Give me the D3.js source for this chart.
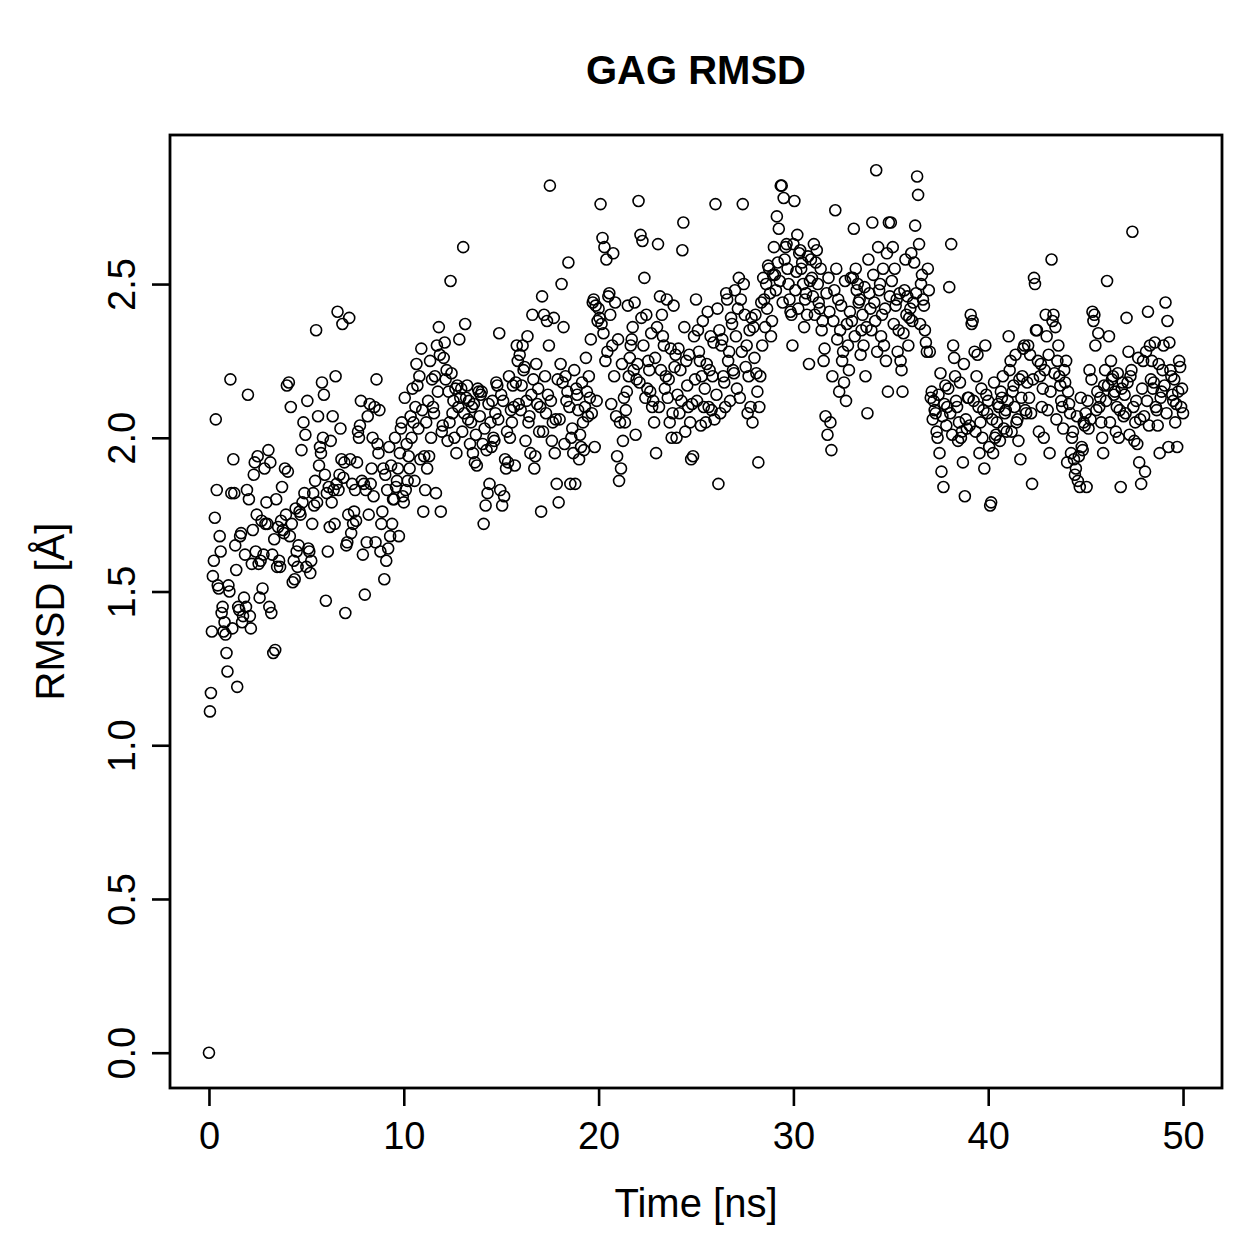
<!DOCTYPE html>
<html>
<head>
<meta charset="utf-8">
<script src="https://cdn.jsdelivr.net/npm/d3@7"></script>
<style>
  body { margin: 0; background: #fff; }
  text { font-family: "Liberation Sans", Arial, Helvetica, sans-serif; fill: #000; }
</style>
</head>
<body>
<svg id="chart" width="1259" height="1259"></svg>
<script>
// RMSD values (Å), one frame every 0.05 ns
const rmsd_00_10 = [
  0.00,1.11,1.17,1.37,1.55,1.60,1.74,2.06,1.83,1.52,1.51,1.68,1.63,1.43,1.45,1.37,1.40,1.36,1.30,1.24,
  1.52,1.50,2.19,1.82,1.38,1.93,1.82,1.65,1.57,1.19,1.45,1.44,1.68,1.69,1.40,1.42,1.48,1.62,1.45,1.83,
  2.14,1.80,1.42,1.38,1.59,1.70,1.88,1.92,1.63,1.75,1.94,1.59,1.48,1.60,1.73,1.51,1.62,1.90,1.72,1.79,
  1.72,1.96,1.45,1.92,1.43,1.62,1.30,1.67,1.31,1.80,1.58,1.71,1.60,1.58,1.73,1.84,1.70,1.69,1.90,1.75,
  2.17,1.89,2.18,1.68,2.10,1.72,1.53,1.60,1.54,1.77,1.63,1.58,1.65,1.76,1.75,1.96,1.79,2.05,1.82,2.01,
  1.58,2.12,1.64,1.63,1.56,1.60,1.72,1.82,1.78,1.86,2.35,1.79,2.07,1.91,1.97,1.95,2.18,2.00,2.14,1.88,
  1.47,1.82,1.63,1.84,1.71,1.99,1.79,2.07,1.83,1.72,2.20,1.85,2.41,1.83,1.88,2.03,1.93,2.37,1.87,1.92,
  1.43,1.65,1.66,1.75,2.39,1.93,1.69,1.85,1.72,1.76,1.83,1.73,1.92,2.02,2.00,2.04,2.12,1.86,1.62,1.85,
  1.49,1.83,1.66,2.07,1.75,2.11,1.85,1.90,2.00,1.81,2.10,1.66,2.19,1.98,1.95,2.09,1.63,1.72,1.76,1.90,
  1.54,1.88,1.60,1.83,1.64,1.97,1.68,1.91,1.72,1.80,1.80,2.00,1.84,1.86,1.90,1.68,1.95,2.03,2.05,1.81
];
const rmsd_10_20 = [
  1.79,2.13,1.83,1.98,1.86,1.94,1.90,2.07,2.00,2.16,2.05,1.86,2.10,2.24,2.17,2.03,2.20,1.93,2.29,2.09,
  1.76,1.94,1.83,2.05,1.90,2.12,1.94,2.25,2.00,2.19,2.10,2.08,2.20,1.82,2.30,2.15,2.36,2.27,1.76,2.02,
  2.04,2.26,2.31,2.19,2.22,1.99,2.15,2.05,2.51,2.21,2.08,2.12,2.00,2.16,1.95,2.17,2.10,2.32,2.13,2.16,
  2.02,2.62,2.08,2.37,2.13,2.17,2.06,2.12,1.98,2.05,2.10,1.95,2.11,1.92,2.01,1.91,2.16,2.15,2.07,2.14,
  2.15,1.98,1.72,2.03,1.78,1.96,1.82,2.11,1.85,2.05,1.97,2.12,2.00,1.99,2.08,2.18,2.17,2.06,2.34,1.83,
  2.14,1.78,2.12,1.81,1.93,1.90,2.02,1.92,2.20,2.00,2.09,2.05,2.17,2.10,1.91,2.18,2.30,2.25,2.11,2.27,
  2.09,2.17,2.30,2.22,2.23,1.99,2.12,2.33,2.05,2.07,1.95,2.14,2.40,2.19,1.90,1.94,2.24,2.11,2.16,2.02,
  2.10,1.76,2.46,2.02,2.40,2.20,2.08,2.38,2.14,2.30,2.82,2.12,1.99,2.05,2.39,1.95,2.06,1.85,2.19,1.79,
  2.06,2.24,2.50,2.18,2.36,1.98,2.20,2.12,2.15,2.57,2.10,1.85,2.00,2.03,1.95,2.22,1.85,2.16,2.14,2.09,
  1.93,2.01,1.97,2.18,2.05,1.96,2.10,2.26,2.15,2.07,2.20,2.13,2.32,2.08,2.44,2.45,1.97,2.43,2.12,2.38
];
const rmsd_20_30 = [
  2.42,2.39,2.76,2.37,2.65,2.34,2.62,2.25,2.58,2.28,2.46,2.47,2.40,2.11,2.30,2.60,2.20,2.44,2.07,1.94,
  2.32,1.86,2.05,1.90,2.24,1.99,2.13,2.05,2.09,2.15,2.43,2.20,2.26,2.30,2.32,2.36,2.22,2.44,2.01,2.19,
  2.24,2.77,2.18,2.66,2.39,2.64,2.30,2.52,2.13,2.40,2.16,2.25,2.22,2.15,2.34,2.10,2.12,2.05,2.26,1.95,
  2.36,2.63,2.10,2.46,2.22,2.40,2.33,2.30,2.16,2.20,2.45,2.13,2.19,2.05,2.29,2.00,2.08,2.43,2.23,2.27,
  2.00,2.14,2.29,2.08,2.22,2.12,2.61,2.70,2.36,2.02,2.25,2.17,2.10,2.27,2.05,1.93,2.11,1.94,2.33,2.19,
  2.45,2.12,2.35,2.28,2.25,2.04,2.20,2.38,2.10,2.16,2.05,2.24,2.41,2.10,2.22,2.33,2.09,2.20,2.31,2.06,
  2.76,2.14,2.42,1.85,2.35,2.08,2.30,2.32,2.20,2.18,2.10,2.47,2.45,2.25,2.28,2.12,2.39,2.37,2.22,2.21,
  2.48,2.33,2.16,2.42,2.52,2.13,2.45,2.28,2.76,2.50,2.40,2.23,2.30,2.08,2.20,2.35,2.10,2.39,2.05,2.36,
  2.26,2.40,2.21,2.15,1.92,2.10,2.20,2.44,2.30,2.52,2.45,2.36,2.50,2.42,2.56,2.55,2.47,2.33,2.38,2.53,
  2.62,2.53,2.48,2.72,2.57,2.68,2.51,2.82,2.82,2.44,2.78,2.58,2.62,2.63,2.55,2.50,2.45,2.41,2.40,2.30
];
const rmsd_30_40 = [
  2.63,2.77,2.48,2.54,2.66,2.42,2.60,2.61,2.55,2.57,2.50,2.36,2.45,2.47,2.40,2.59,2.24,2.51,2.58,2.52,
  2.46,2.63,2.40,2.57,2.61,2.50,2.44,2.42,2.55,2.35,2.38,2.25,2.29,2.07,2.47,2.01,2.52,2.41,2.05,1.96,
  2.20,2.38,2.48,2.74,2.55,2.32,2.45,2.15,2.35,2.43,2.25,2.28,2.18,2.51,2.12,2.37,2.30,2.22,2.41,2.52,
  2.38,2.52,2.68,2.33,2.55,2.48,2.50,2.44,2.45,2.27,2.35,2.40,2.30,2.49,2.20,2.36,2.08,2.58,2.47,2.42,
  2.35,2.70,2.53,2.44,2.38,2.87,2.28,2.62,2.48,2.50,2.33,2.40,2.55,2.30,2.42,2.25,2.60,2.15,2.70,2.46,
  2.70,2.51,2.62,2.37,2.55,2.43,2.45,2.28,2.35,2.47,2.25,2.22,2.15,2.34,2.48,2.58,2.40,2.46,2.30,2.39,
  2.42,2.60,2.38,2.44,2.57,2.69,2.47,2.85,2.79,2.63,2.37,2.50,2.53,2.45,2.43,2.35,2.31,2.28,2.55,2.48,
  2.28,2.13,2.15,2.06,2.12,2.09,2.08,2.02,2.00,2.14,1.95,2.21,1.89,2.07,1.84,2.11,2.17,2.04,2.10,2.16,
  2.49,2.08,2.63,2.01,2.30,2.26,2.20,2.12,2.10,1.99,2.05,2.18,2.00,2.02,1.92,2.24,1.81,2.06,2.03,2.13,
  2.13,2.04,2.40,2.37,2.38,2.12,2.28,2.02,2.20,2.27,2.10,1.95,2.05,2.16,2.00,2.09,1.90,2.30,2.14,2.08
];
const rmsd_40_50 = [
  2.12,1.97,1.78,1.79,2.06,1.95,2.18,2.00,2.01,2.05,2.11,2.10,1.99,2.15,2.13,2.20,2.03,2.08,2.09,2.02,
  2.12,2.33,2.22,2.25,2.02,2.15,2.17,2.10,2.27,2.05,2.06,1.99,2.19,1.93,2.13,2.20,2.29,2.30,2.09,2.08,
  2.18,2.30,2.13,2.27,2.08,1.85,2.19,2.52,2.50,2.35,2.35,2.25,2.02,2.20,2.24,2.10,2.16,2.00,2.22,2.40,
  2.33,2.09,2.27,1.95,2.15,2.58,2.38,2.40,2.21,2.36,2.06,2.25,2.30,2.20,2.17,2.12,2.10,2.03,2.22,2.18,
  2.25,1.92,2.15,2.11,2.08,1.95,2.00,2.02,1.93,1.88,1.90,2.07,1.86,1.94,1.84,2.13,1.97,1.96,2.05,2.04,
  2.08,1.84,2.12,2.03,2.22,2.06,2.19,2.41,2.38,2.40,2.30,2.09,2.15,2.34,2.10,2.13,2.05,2.00,1.95,2.17,
  2.22,2.12,2.51,2.17,2.33,2.05,2.25,2.19,2.20,2.14,2.15,2.02,2.10,2.21,2.00,2.09,1.84,2.16,2.18,2.07,
  2.14,2.08,2.39,2.18,2.28,2.01,2.20,2.22,2.67,2.10,1.99,2.05,2.12,1.98,2.26,1.92,2.06,1.85,2.16,2.25,
  2.07,1.89,2.28,2.12,2.41,2.04,2.30,2.19,2.25,2.16,2.18,2.31,2.10,2.09,2.04,2.24,1.95,2.13,2.15,2.22,
  2.30,2.17,2.44,2.08,2.38,1.97,2.31,2.22,2.20,2.14,2.12,2.19,2.05,2.11,1.97,2.15,2.25,2.23,2.10,2.16,
  2.08
];
const time_step = 0.05; // ns between frames
const x_ticks = [0, 10, 20, 30, 40, 50];
const y_ticks = [0.0, 0.5, 1.0, 1.5, 2.0, 2.5];

const rmsd = [].concat(rmsd_00_10, rmsd_10_20, rmsd_20_30, rmsd_30_40, rmsd_40_50);
const data = rmsd.map((v, i) => ({ time: i * time_step, rmsd: v }));

const svg = d3.select("#chart");
const plot = { left: 170, right: 1222, top: 135, bottom: 1088 };

// base-R style: data range padded by 4% on each side
function padded(ext) {
  const p = (ext[1] - ext[0]) * 0.04;
  return [ext[0] - p, ext[1] + p];
}
const x = d3.scaleLinear()
  .domain(padded(d3.extent(data, d => d.time)))
  .range([plot.left, plot.right]);
const y = d3.scaleLinear()
  .domain(padded(d3.extent(data, d => d.rmsd)))
  .range([plot.bottom, plot.top]);

// points
svg.append("g")
  .selectAll("circle")
  .data(data)
  .enter()
  .append("circle")
    .attr("cx", d => x(d.time))
    .attr("cy", d => y(d.rmsd))
    .attr("r", 5.5)
    .attr("fill", "none")
    .attr("stroke", "#000")
    .attr("stroke-width", 1.6);

// box
svg.append("rect")
  .attr("x", plot.left)
  .attr("y", plot.top)
  .attr("width", plot.right - plot.left)
  .attr("height", plot.bottom - plot.top)
  .attr("fill", "none")
  .attr("stroke", "#000")
  .attr("stroke-width", 2.8);

// x axis
svg.append("g")
  .attr("transform", `translate(0,${plot.bottom})`)
  .call(d3.axisBottom(x).tickValues(x_ticks).tickSize(18).tickFormat(d3.format("d")))
  .call(g => g.select(".domain").remove())
  .call(g => g.selectAll("line").attr("stroke-width", 2.6))
  .call(g => g.selectAll("text")
    .attr("y", 61).attr("dy", 0)
    .attr("font-size", 38)
    .attr("font-family", "Liberation Sans, Arial, sans-serif"));

// y axis, labels parallel to the axis
svg.append("g")
  .attr("transform", `translate(${plot.left},0)`)
  .call(d3.axisLeft(y).tickValues(y_ticks).tickSize(18).tickFormat(d3.format(".1f")))
  .call(g => g.select(".domain").remove())
  .call(g => g.selectAll("line").attr("stroke-width", 2.6))
  .call(g => g.selectAll("text")
    .attr("transform", "rotate(-90)")
    .attr("x", 0).attr("y", -35).attr("dy", 0)
    .attr("text-anchor", "middle")
    .attr("font-size", 38)
    .attr("font-family", "Liberation Sans, Arial, sans-serif"));

// titles
const midX = (plot.left + plot.right) / 2;
const midY = (plot.top + plot.bottom) / 2;

svg.append("text")
  .attr("x", midX).attr("y", 84)
  .attr("text-anchor", "middle")
  .attr("font-size", 40)
  .attr("font-weight", "bold")
  .text("GAG RMSD");

svg.append("text")
  .attr("x", midX).attr("y", 1217)
  .attr("text-anchor", "middle")
  .attr("font-size", 40)
  .text("Time [ns]");

svg.append("text")
  .attr("transform", `translate(64,${midY}) rotate(-90)`)
  .attr("text-anchor", "middle")
  .attr("font-size", 40)
  .text("RMSD [Å]");
</script>
</body>
</html>
